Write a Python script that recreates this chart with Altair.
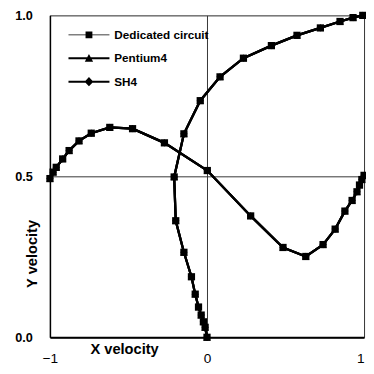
import altair as alt
import pandas as pd

series = ["Dedicated circuit", "Pentium4", "SH4"]

# curve A: starts at (0,0), swings left, then rises to (1,1)
xA = [0.0, -0.012, -0.023, -0.037, -0.054, -0.075, -0.099, -0.147, -0.199, -0.209,
      -0.147, -0.043, 0.083, 0.232, 0.41, 0.573, 0.722, 0.847, 0.93, 0.992]
yA = [0.0, 0.031, 0.048, 0.069, 0.094, 0.134, 0.188, 0.264, 0.362, 0.498,
      0.632, 0.735, 0.809, 0.867, 0.906, 0.938, 0.961, 0.981, 0.993, 1.0]

# curve B: from (-1,0.5) over a hump, down to a trough and back to (1,0.5)
xB = [-1.0, -0.98, -0.96, -0.919, -0.878, -0.815, -0.737, -0.619, -0.474, -0.271,
      0.002, 0.278, 0.484, 0.629, 0.739, 0.816, 0.878, 0.924, 0.955, 0.971, 0.986, 1.0]
yB = [0.493, 0.513, 0.528, 0.554, 0.58, 0.61, 0.634, 0.652, 0.648, 0.604,
      0.518, 0.377, 0.279, 0.251, 0.288, 0.336, 0.392, 0.425, 0.452, 0.473, 0.49, 0.503]

x_ticks = [-1, 0, 1]
y_ticks = [0, 0.5, 1]

rows = []
for s in series:
    for curve, xs, ys in (("A", xA, yA), ("B", xB, yB)):
        for i, (x, y) in enumerate(zip(xs, ys)):
            rows.append({"series": s, "curve": curve, "idx": i, "x": x, "y": y})
df = pd.DataFrame(rows)

FONT = "Liberation Sans"

xscale = alt.Scale(domain=[-1, 1], nice=False, zero=False)
yscale = alt.Scale(domain=[0, 1], nice=False)

x_axis = alt.Axis(values=x_ticks, title="X velocity",
                  labelExpr="datum.value == 0 ? '0' : (datum.value < 0 ? '\u22121' : '1')",
                  titleX=41, titleY=17, titleAlign="left", titleBaseline="alphabetic",
                  titleFont=FONT, titleFontSize=15, titleFontWeight="bold",
                  titleColor="black", labelFont=FONT, labelFontSize=14,
                  labelColor="black", labelPadding=15, labelFlush=False,
                  labelOverlap=False, labelBound=False,
                  labelAlign={"expr": "datum.value > 0.5 ? 'right' : 'center'"},
                  tickSize=0, domainColor="black", domainWidth=2,
                  grid=True, gridColor="#333333", gridWidth=1)
y_axis = alt.Axis(values=y_ticks, format=".1f", title="Y velocity",
                  titleX=-19, titleY=244, titleAlign="center", titleBaseline="middle",
                  titleAngle=-90,
                  titleFont=FONT, titleFontSize=15, titleFontWeight="bold",
                  titleColor="black", labelFont=FONT, labelFontSize=13,
                  labelFontWeight="bold", labelColor="black", labelPadding=18,
                  labelOverlap=False,
                  tickSize=0, domainColor="black", domainWidth=1.5,
                  grid=True, gridColor="#333333", gridWidth=1)

base = alt.Chart(df)

lines = base.mark_line(color="black", strokeWidth=2.3).encode(
    x=alt.X("x:Q", scale=xscale, axis=x_axis),
    y=alt.Y("y:Q", scale=yscale, axis=y_axis),
    detail=alt.Detail(["series:N", "curve:N"]),
    order="idx:Q",
)

points = base.mark_point(filled=True, color="black", opacity=1, size=55).encode(
    x=alt.X("x:Q", scale=xscale),
    y=alt.Y("y:Q", scale=yscale),
    shape=alt.Shape("series:N",
                    scale=alt.Scale(domain=series,
                                    range=["square", "triangle-up", "diamond"]),
                    legend=None),
)

leg_paths = [
    "M-4.2,-0.1H4.2V0.1H-4.2Z M-0.7,-0.7H0.7V0.7H-0.7Z",
    "M-4.2,-0.2H4.2V0.2H-4.2Z M0,-0.9L0.85,0.7L-0.85,0.7Z",
    "M-4.2,-0.2H4.2V0.2H-4.2Z M0,-0.95L0.9,0L0,0.95L-0.9,0Z",
]

legend_layer = base.transform_filter(alt.datum.x > 100).mark_point(
    filled=True, color="black", opacity=1, size=100
).encode(
    x=alt.X("x:Q", scale=xscale),
    y=alt.Y("y:Q", scale=yscale),
    shape=alt.Shape("series:N",
                    scale=alt.Scale(domain=series, range=leg_paths),
                    legend=alt.Legend(title=None, orient="none",
                                      legendX=34, legendY=14,
                                      symbolSize=100, symbolStrokeWidth=0,
                                      symbolFillColor="black",
                                      labelFont=FONT, labelFontSize=12,
                                      labelFontWeight="bold", labelColor="black",
                                      labelOffset=20, rowPadding=12, padding=0)),
)

chart = alt.layer(lines, points, legend_layer).resolve_scale(
    shape="independent"
).resolve_legend(shape="independent").properties(
    width=322, height=330,
    autosize=alt.AutoSizeParams(type="none"),
    padding={"left": 43, "top": 3, "right": 2, "bottom": 30},
).configure_view(stroke=None).configure(background="white")

chart.save("out.html", embed_options={"renderer": "svg", "actions": False})
